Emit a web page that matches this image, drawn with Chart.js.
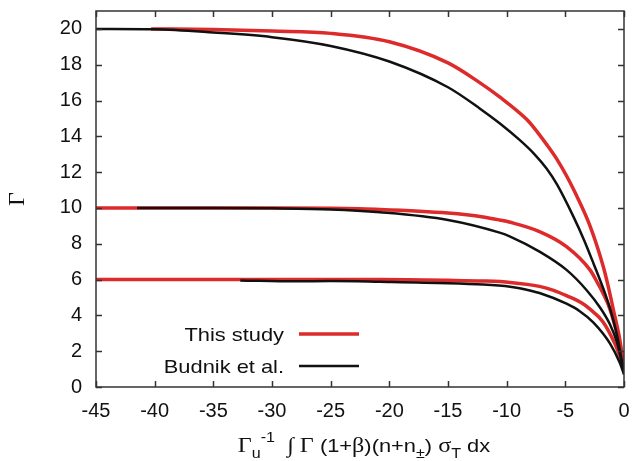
<!DOCTYPE html>
<html>
<head>
<meta charset="utf-8">
<script src="https://cdn.jsdelivr.net/npm/chart.js@4.4.1/dist/chart.umd.min.js"></script>
<style>
  html, body { margin: 0; padding: 0; background: #fff; }
</style>
</head>
<body>
<canvas id="chart" width="634" height="461"></canvas>
<script>
// tick values
const xTicks = [-45, -40, -35, -30, -25, -20, -15, -10, -5, 0];
const yTicks = [0, 2, 4, 6, 8, 10, 12, 14, 16, 18, 20];

// This study (red), three starting Lorentz factors
const red20X = [-40.3, -35, -30, -25, -20, -15, -12.3, -10.6, -8.3, -7.7, -6.6, -5.7, -4.9, -4.2, -2.9, -1.8, -1.3, -0.9, -0.4, 0];
const red20Y = [20, 19.97, 19.88, 19.75, 19.28, 18.1, 17.0, 16.2, 14.95, 14.5, 13.55, 12.7, 11.8, 10.9, 9.0, 6.8, 5.5, 4.3, 2.8, 1.1];
const red10X = [-45, -35, -30, -25, -20.8, -15, -12, -10.6, -9.7, -7.2, -4.9, -2.9, -2.2, -1.8, -1.2, -0.5, 0];
const red10Y = [10, 10, 10, 9.98, 9.92, 9.72, 9.5, 9.33, 9.2, 8.68, 7.84, 6.54, 5.75, 5.25, 4.35, 2.7, 1.1];
const red6X = [-45, -30, -20.8, -15, -12, -9.7, -7.2, -6, -4.9, -3.5, -2.9, -1.8, -0.8, 0];
const red6Y = [6, 6, 6, 5.96, 5.92, 5.84, 5.62, 5.4, 5.1, 4.65, 4.35, 3.65, 2.45, 1.1];

// Budnik et al. (black)
const black20X = [-45, -40, -35, -30, -25, -20, -15, -12.3, -10.6, -8.9, -7.7, -6.6, -5.7, -4.3, -3.4, -2.6, -1.6, -1.2, -0.6, 0];
const black20Y = [20, 19.98, 19.8, 19.54, 19.05, 18.18, 16.74, 15.56, 14.73, 13.8, 13.05, 12.2, 11.3, 9.5, 8.2, 6.9, 5.2, 4.4, 2.9, 0.8];
const black10X = [-41.5, -35, -30, -25, -20.8, -15, -10.6, -9.7, -7.2, -4.9, -3.2, -2, -1.2, -0.6, 0];
const black10Y = [10, 10, 9.98, 9.92, 9.76, 9.33, 8.62, 8.4, 7.56, 6.54, 5.42, 4.4, 3.5, 2.5, 0.8];
const black6X = [-32.7, -28, -25, -20.8, -15, -12, -9.7, -8.9, -7.2, -4.9, -3.8, -2.6, -1.2, -0.34, 0];
const black6Y = [5.95, 5.9, 5.92, 5.88, 5.8, 5.72, 5.6, 5.52, 5.25, 4.65, 4.25, 3.6, 2.44, 1.33, 0.7];

const RED = "#dd2a2a";
const BLACK = "#111111";

function pts(xs, ys) {
  return xs.map((x, i) => ({ x: x, y: ys[i] }));
}

function line(label, xs, ys, color, width) {
  return {
    label: label,
    data: pts(xs, ys),
    borderColor: color,
    borderWidth: width,
    pointRadius: 0,
    fill: false,
    cubicInterpolationMode: "monotone"
  };
}

// frame, inward ticks, axis titles and legend
const decor = {
  id: "decor",
  afterDraw(chart) {
    const ctx = chart.ctx;
    const a = chart.chartArea;
    const sx = chart.scales.x, sy = chart.scales.y;
    ctx.save();
    ctx.strokeStyle = "#333";
    ctx.lineWidth = 1.5;
    ctx.strokeRect(a.left, a.top, a.right - a.left, a.bottom - a.top);
    ctx.beginPath();
    xTicks.forEach(v => {
      const p = Math.round(sx.getPixelForValue(v)) + 0.5;
      ctx.moveTo(p, a.bottom); ctx.lineTo(p, a.bottom - 6);
      ctx.moveTo(p, a.top); ctx.lineTo(p, a.top + 6);
    });
    yTicks.forEach(v => {
      const p = Math.round(sy.getPixelForValue(v)) + 0.5;
      ctx.moveTo(a.left, p); ctx.lineTo(a.left + 6, p);
      ctx.moveTo(a.right, p); ctx.lineTo(a.right - 6, p);
    });
    ctx.stroke();

    ctx.fillStyle = "#111";
    // y title
    ctx.save();
    ctx.translate(18, (a.top + a.bottom) / 2);
    ctx.rotate(-Math.PI / 2);
    ctx.font = '24px "Liberation Serif"';
    ctx.textAlign = "center";
    ctx.textBaseline = "middle";
    ctx.fillText("Γ", 0, 0);
    ctx.restore();

    // x title with sub/superscripts
    const fonts = {
      sans: ['19px "Liberation Sans"', 0],
      serif: ['21px "Liberation Serif"', 0],
      sub: ['14px "Liberation Sans"', 6],
      sup: ['14px "Liberation Sans"', -10]
    };
    const parts = [
      ["Γ", "serif"], ["u", "sub"], ["-1", "sup"], ["  ", "sans"], ["∫", "serif"], [" Γ", "serif"],
      [" (1+", "sans"], ["β", "serif"], [")(n+n", "sans"], ["±", "sub"], [") ", "sans"],
      ["σ", "serif"], ["T", "sub"], [" dx", "sans"]
    ];
    const stretch = 1.15;
    let w = 0;
    parts.forEach(p => { ctx.font = fonts[p[1]][0]; w += ctx.measureText(p[0]).width; });
    ctx.save();
    ctx.translate((a.left + a.right) / 2 + 4 - w * stretch / 2, 452);
    ctx.scale(stretch, 1);
    ctx.textAlign = "left";
    ctx.textBaseline = "alphabetic";
    let cx = 0;
    parts.forEach(p => {
      ctx.font = fonts[p[1]][0];
      ctx.fillText(p[0], cx, fonts[p[1]][1]);
      cx += ctx.measureText(p[0]).width;
    });
    ctx.restore();

    // legend: text on the left, line sample on the right
    const items = [["This study", RED, 3.5, 334], ["Budnik et al.", BLACK, 2.5, 366]];
    items.forEach(it => {
      ctx.save();
      ctx.translate(284, it[3] + 6.5);
      ctx.scale(1.15, 1);
      ctx.font = '19px "Liberation Sans"';
      ctx.textAlign = "right";
      ctx.textBaseline = "alphabetic";
      ctx.fillText(it[0], 0, 0);
      ctx.restore();
      ctx.strokeStyle = it[1];
      ctx.lineWidth = it[2];
      ctx.beginPath();
      ctx.moveTo(299, it[3]);
      ctx.lineTo(359, it[3]);
      ctx.stroke();
    });
    ctx.restore();
  }
};

const tickFont = { family: "Liberation Sans", size: 20 };

new Chart(document.getElementById("chart"), {
  type: "line",
  data: {
    datasets: [
      line("Budnik et al.", black20X, black20Y, BLACK, 2.5),
      line("Budnik et al.", black10X, black10Y, BLACK, 2.5),
      line("Budnik et al.", black6X, black6Y, BLACK, 2.5),
      line("This study", red20X, red20Y, RED, 3.5),
      line("This study", red10X, red10Y, RED, 3.5),
      line("This study", red6X, red6Y, RED, 3.5)
    ]
  },
  options: {
    responsive: false,
    animation: false,
    layout: { padding: { top: 11, right: 10, left: 0, bottom: 0 } },
    plugins: { legend: { display: false }, tooltip: { enabled: false } },
    scales: {
      x: {
        type: "linear",
        min: -45,
        max: 0,
        afterBuildTicks: s => { s.ticks = xTicks.map(v => ({ value: v })); },
        afterFit: s => { s.height = 74; s.paddingLeft = 0; s.paddingRight = 0; },
        grid: { display: false, drawTicks: false },
        border: { display: false },
        ticks: { font: tickFont, color: "#111", padding: 12, maxRotation: 0, autoSkip: false }
      },
      y: {
        type: "linear",
        min: 0,
        max: 21,
        afterBuildTicks: s => { s.ticks = yTicks.map(v => ({ value: v })); },
        afterFit: s => { s.width = 96; s.paddingTop = 0; s.paddingBottom = 0; },
        grid: { display: false, drawTicks: false },
        border: { display: false },
        ticks: { font: tickFont, color: "#111", padding: 14, autoSkip: false }
      }
    }
  },
  plugins: [decor]
});
</script>
</body>
</html>
